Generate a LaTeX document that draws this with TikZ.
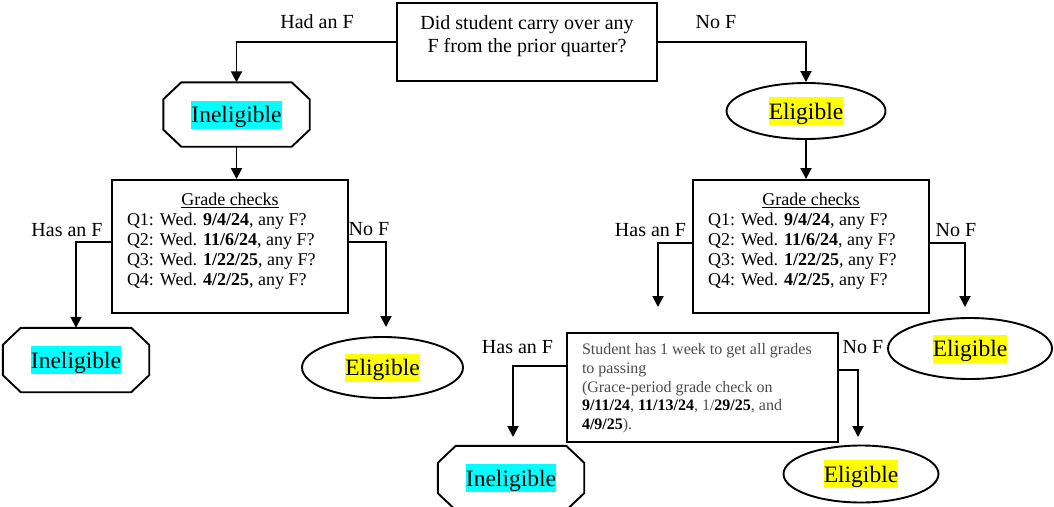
\documentclass[tikz,border=0pt]{standalone}
\usepackage{fontspec}
\setmainfont{Liberation Serif}
\usetikzlibrary{arrows.meta,shapes.geometric,calc}
\definecolor{hlcyan}{HTML}{00FFFF}
\definecolor{hlyellow}{HTML}{FFFF00}
\definecolor{gracegray}{gray}{0.3}
\newcommand\hlword[2]{{\setlength\fboxsep{0pt}\colorbox{#1}{\rule[-6pt]{0pt}{28pt}#2}}}
\newcommand\octo[1]{\draw[shapeline] ($(#1.north west)+(18,0)$) -- ($(#1.north east)+(-18,0)$) -- ($(#1.north east)+(0,17)$) -- ($(#1.south east)+(0,-17)$) -- ($(#1.south east)+(-18,0)$) -- ($(#1.south west)+(18,0)$) -- ($(#1.south west)+(0,-17)$) -- ($(#1.north west)+(0,17)$) -- cycle;}
\begin{document}
\begin{tikzpicture}[x=1pt,y=-1pt,
  shapeline/.style={line width=1.9pt},
  conn/.style={line width=1.9pt,-{Triangle[length=11pt,width=11pt]}},
  lbl/.style={font=\fontsize{20}{23}\selectfont, inner sep=0},
  topbox/.style={draw, line width=1.9pt, inner sep=0, minimum width=260pt, minimum height=78pt, font=\fontsize{20}{23}\selectfont},
  qbox/.style={draw, line width=1.9pt, inner sep=0, minimum width=236pt, minimum height=133pt, font=\fontsize{18}{20}\selectfont},
  gbox/.style={draw, line width=1.9pt, inner sep=0, minimum width=271pt, minimum height=109pt, font=\fontsize{16}{18.7}\selectfont},
  octnode/.style={inner sep=0, minimum width=146pt, minimum height=64pt, font=\fontsize{23.5}{26}\selectfont},
  ellnode/.style={ellipse, draw, line width=1.9pt, inner sep=0, font=\fontsize{23.5}{26}\selectfont}]
\useasboundingbox[fill=white] (0,0) rectangle (1054,506);

% top question
\node[topbox] (q0) at (527,42) {\begin{minipage}[c][53pt][t]{250pt}\centering Did student carry over any\\ F from the prior quarter?\end{minipage}};

% first level
\node[octnode] (i1) at (236.5,114.5) {\hlword{hlcyan}{Ineligible}};
\octo{i1}
\node[ellnode, minimum width=159pt, minimum height=56pt] (e1) at (806,111) {\hlword{hlyellow}{Eligible}};

\draw[conn] (q0.west) -| (i1.north);
\draw[conn] (q0.east) -| (e1.north);
\node[lbl] (l1) at (317,22) {Had an F};
\node[lbl] (l2) at (716,22) {No F};

% grade check boxes
\node[qbox] (g1) at (230,246.5) {\begin{minipage}[c][107pt][t]{206pt}\centerline{\underline{Grade checks}}
Q1: Wed. \textbf{9/4/24}, any F?\\
Q2: Wed. \textbf{11/6/24}, any F?\\
Q3: Wed. \textbf{1/22/25}, any F?\\
Q4: Wed. \textbf{4/2/25}, any F?\end{minipage}};
\node[qbox] (g2) at (811,246.5) {\begin{minipage}[c][107pt][t]{206pt}\centerline{\underline{Grade checks}}
Q1: Wed. \textbf{9/4/24}, any F?\\
Q2: Wed. \textbf{11/6/24}, any F?\\
Q3: Wed. \textbf{1/22/25}, any F?\\
Q4: Wed. \textbf{4/2/25}, any F?\end{minipage}};

\draw[conn] (i1.south) -- (i1.south |- g1.north);
\draw[conn] (e1.south) -- (e1.south |- g2.north);

% outcomes of left grade box
\node[octnode] (i2) at (76,360) {\hlword{hlcyan}{Ineligible}};
\octo{i2}
\node[ellnode, minimum width=161pt, minimum height=61pt] (e2) at (382.5,367.5) {\hlword{hlyellow}{Eligible}};
\coordinate (c2) at (386,327);
\draw[conn] ($(g1.west)+(0,-4.5)$) -| (i2.north);
\draw[conn] ($(g1.east)+(0,-4.5)$) -| (c2);
\node[lbl] (l3) at (67,230) {Has an F};
\node[lbl] (l4) at (369,229) {No F};

% outcomes of right grade box
\node[ellnode, minimum width=164pt, minimum height=61pt] (e3) at (970,348.5) {\hlword{hlyellow}{Eligible}};
\coordinate (c3) at (658,307);
\coordinate (c4) at (965,307);
\draw[conn] ($(g2.west)+(0,-3.5)$) -| (c3);
\draw[conn] ($(g2.east)+(0,-3.5)$) -| (c4);
\node[lbl] (l5) at (650.5,230) {Has an F};
\node[lbl] (l6) at (956,230) {No F};

% grace period box
\node[gbox] (gr) at (702.5,387.5) {\begin{minipage}[c][87.6pt][t]{241pt}\raggedright\color{gracegray}
Student has 1 week to get all grades\\
to passing\\
(Grace-period grade check on\\
{\color{black}\textbf{9/11/24}}, {\color{black}\textbf{11/13/24}}, 1/{\color{black}\textbf{29/25}}, and\\
{\color{black}\textbf{4/9/25}}).\end{minipage}};

\node[octnode] (i3) at (511,478) {\hlword{hlcyan}{Ineligible}};
\octo{i3}
\node[ellnode, minimum width=155pt, minimum height=57pt] (e4) at (861,474) {\hlword{hlyellow}{Eligible}};
\coordinate (c5) at (513,437);
\coordinate (c6) at (858,437);
\draw[conn] ($(gr.west)+(0,-21.5)$) -| (c5);
\draw[conn] ($(gr.east)+(0,-17.5)$) -| (c6);
\node[lbl] (l7) at (517.5,347) {Has an F};
\node[lbl] (l8) at (863,347) {No F};
\end{tikzpicture}
\end{document}
